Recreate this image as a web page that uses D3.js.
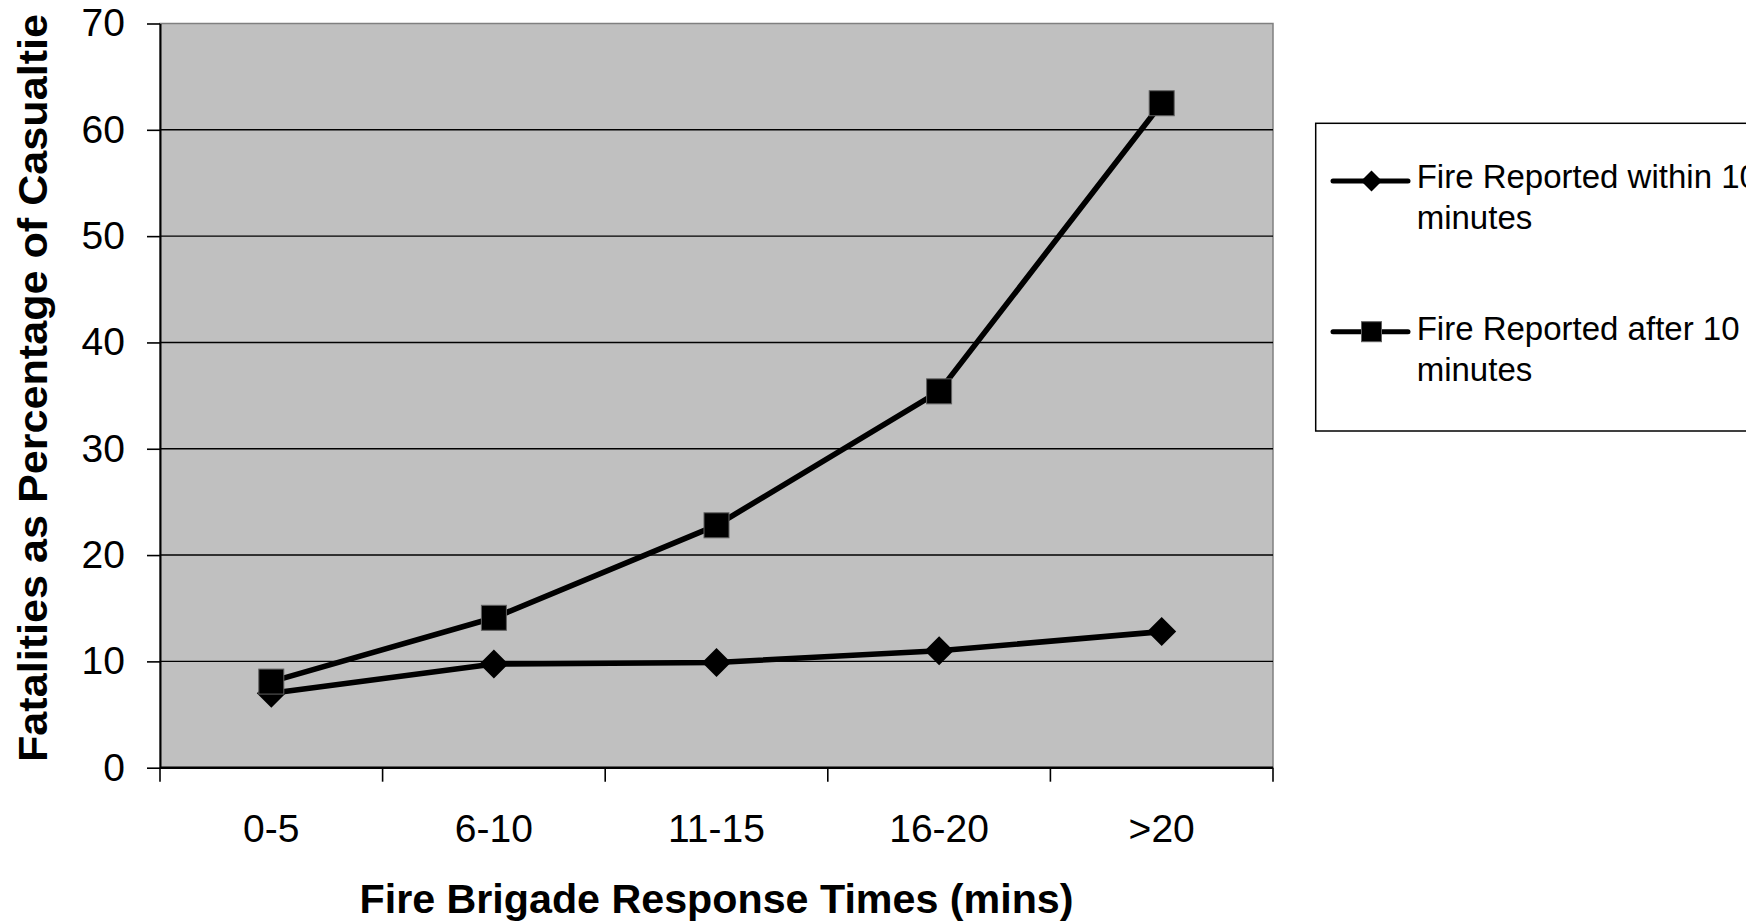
<!DOCTYPE html>
<html>
<head>
<meta charset="utf-8">
<script src="https://cdn.jsdelivr.net/npm/d3@7/dist/d3.min.js"></script>
<style>
  html, body { margin: 0; padding: 0; background: #ffffff; }
  svg { display: block; font-family: "Liberation Sans", Arial, sans-serif; }
</style>
</head>
<body>
<svg id="chart" width="1763" height="922"></svg>
<script>
// Response-time bands and fatality rates (% of casualties)
const categories = ["0-5", "6-10", "11-15", "16-20", ">20"];
const reportedWithin10 = [7.0, 9.75, 9.9, 11.0, 12.8];
const reportedAfter10 = [8.1, 14.1, 22.8, 35.4, 62.5];
const yTicks = [0, 10, 20, 30, 40, 50, 60, 70];
const seriesNames = ["Fire Reported within 10 minutes", "Fire Reported after 10 minutes"];
const legendLines = [["Fire Reported within 10", "minutes"], ["Fire Reported after 10", "minutes"]];

const svg = d3.select("#chart");
const plot = { left: 160, right: 1273, top: 23.5, bottom: 767.7 };

const x = d3.scaleBand().domain(categories).range([plot.left, plot.right]);
const y = d3.scaleLinear().domain([0, 70]).range([plot.bottom, plot.top]);

// plot area
svg.append("rect")
  .attr("x", plot.left).attr("y", plot.top)
  .attr("width", plot.right - plot.left).attr("height", plot.bottom - plot.top)
  .attr("fill", "#c0c0c0").attr("stroke", "#808080").attr("stroke-width", 1.5);

// horizontal gridlines
svg.append("g").selectAll("line")
  .data(yTicks.filter(d => d > 0 && d < 70))
  .join("line")
  .attr("x1", plot.left).attr("x2", plot.right)
  .attr("y1", d => y(d)).attr("y2", d => y(d))
  .attr("stroke", "#000").attr("stroke-width", 1.4);

// y axis
const yAxis = svg.append("g")
  .attr("transform", `translate(${plot.left},0)`)
  .call(d3.axisLeft(y).tickValues(yTicks).tickSize(13).tickPadding(22).tickSizeOuter(0));
yAxis.select(".domain").attr("stroke", "#000").attr("stroke-width", 2);
yAxis.selectAll(".tick line").attr("stroke", "#000").attr("stroke-width", 1.6);
yAxis.selectAll(".tick text")
  .attr("font-size", 39).attr("fill", "#000")
  .attr("font-family", "Liberation Sans, Arial, sans-serif");

// x axis: ticks on band boundaries, labels centred in bands
const xAxis = svg.append("g").attr("transform", `translate(0,${plot.bottom})`);
xAxis.append("line")
  .attr("x1", plot.left).attr("x2", plot.right)
  .attr("stroke", "#000").attr("stroke-width", 2.4);
const boundaries = categories.map(c => x(c)).concat([x(categories[categories.length - 1]) + x.bandwidth()]);
xAxis.selectAll("line.tk").data(boundaries).join("line").attr("class", "tk")
  .attr("x1", d => d).attr("x2", d => d).attr("y1", 0).attr("y2", 14)
  .attr("stroke", "#000").attr("stroke-width", 1.6);
xAxis.selectAll("text").data(categories).join("text")
  .attr("x", d => x(d) + x.bandwidth() / 2).attr("y", 74)
  .attr("text-anchor", "middle").attr("font-size", 39).attr("fill", "#000")
  .text(d => d);

// axis titles
svg.append("text")
  .attr("x", (plot.left + plot.right) / 2).attr("y", 913)
  .attr("text-anchor", "middle").attr("font-size", 41).attr("font-weight", "bold")
  .attr("textLength", 714).attr("lengthAdjust", "spacingAndGlyphs")
  .text("Fire Brigade Response Times (mins)");

svg.append("text")
  .attr("transform", "translate(47,762) rotate(-90)")
  .attr("text-anchor", "start").attr("font-size", 41).attr("font-weight", "bold")
  .attr("textLength", 748).attr("lengthAdjust", "spacingAndGlyphs")
  .text("Fatalities as Percentage of Casualtie");

// series lines and markers
const cx = d => x(d) + x.bandwidth() / 2;
const lineGen = d3.line().x(d => cx(d.cat)).y(d => y(d.v));
const s1 = categories.map((c, i) => ({ cat: c, v: reportedWithin10[i] }));
const s2 = categories.map((c, i) => ({ cat: c, v: reportedAfter10[i] }));

svg.append("path").datum(s1).attr("d", lineGen)
  .attr("fill", "none").attr("stroke", "#000").attr("stroke-width", 5.6).attr("stroke-linejoin", "round");
svg.append("path").datum(s2).attr("d", lineGen)
  .attr("fill", "none").attr("stroke", "#000").attr("stroke-width", 5.6).attr("stroke-linejoin", "round");

const diamond = r => `M0,${-r}L${r},0L0,${r}L${-r},0Z`;
svg.append("g").selectAll("path").data(s1).join("path")
  .attr("transform", d => `translate(${cx(d.cat)},${y(d.v)})`)
  .attr("d", diamond(14.5)).attr("fill", "#000");

svg.append("g").selectAll("rect").data(s2).join("rect")
  .attr("x", d => cx(d.cat) - 12.5).attr("y", d => y(d.v) - 12.5)
  .attr("width", 25).attr("height", 25)
  .attr("fill", "#000").attr("stroke", "#606060").attr("stroke-width", 1);

// legend (cut off at the right edge of the figure)
svg.append("clipPath").attr("id", "figClip")
  .append("rect").attr("x", 0).attr("y", 0).attr("width", 1746).attr("height", 922);
const legend = svg.append("g").attr("clip-path", "url(#figClip)");
legend.append("rect")
  .attr("x", 1315.7).attr("y", 123.3).attr("width", 480).attr("height", 307.7)
  .attr("fill", "#fff").attr("stroke", "#000").attr("stroke-width", 1.5);

const entryY = [181, 331.7];
const baseY = [188, 340];
seriesNames.forEach((name, i) => {
  const g = legend.append("g").attr("class", "legend-entry").attr("data-series", name);
  g.append("line").attr("x1", 1333).attr("x2", 1408).attr("y1", entryY[i]).attr("y2", entryY[i])
    .attr("stroke", "#000").attr("stroke-width", 5).attr("stroke-linecap", "round");
  if (i === 0) {
    g.append("path").attr("transform", `translate(1371.5,${entryY[i]})`)
      .attr("d", diamond(10.5)).attr("fill", "#000");
  } else {
    g.append("rect").attr("x", 1361.5).attr("y", entryY[i] - 10).attr("width", 20).attr("height", 20)
      .attr("fill", "#000").attr("stroke", "#606060").attr("stroke-width", 1);
  }
  const t = g.append("text").attr("x", 1416.7).attr("y", baseY[i]).attr("font-size", 33).attr("fill", "#000");
  legendLines[i].forEach((ln, j) => {
    t.append("tspan").attr("x", 1416.7).attr("dy", j === 0 ? 0 : 41).text(ln);
  });
});
</script>
</body>
</html>
